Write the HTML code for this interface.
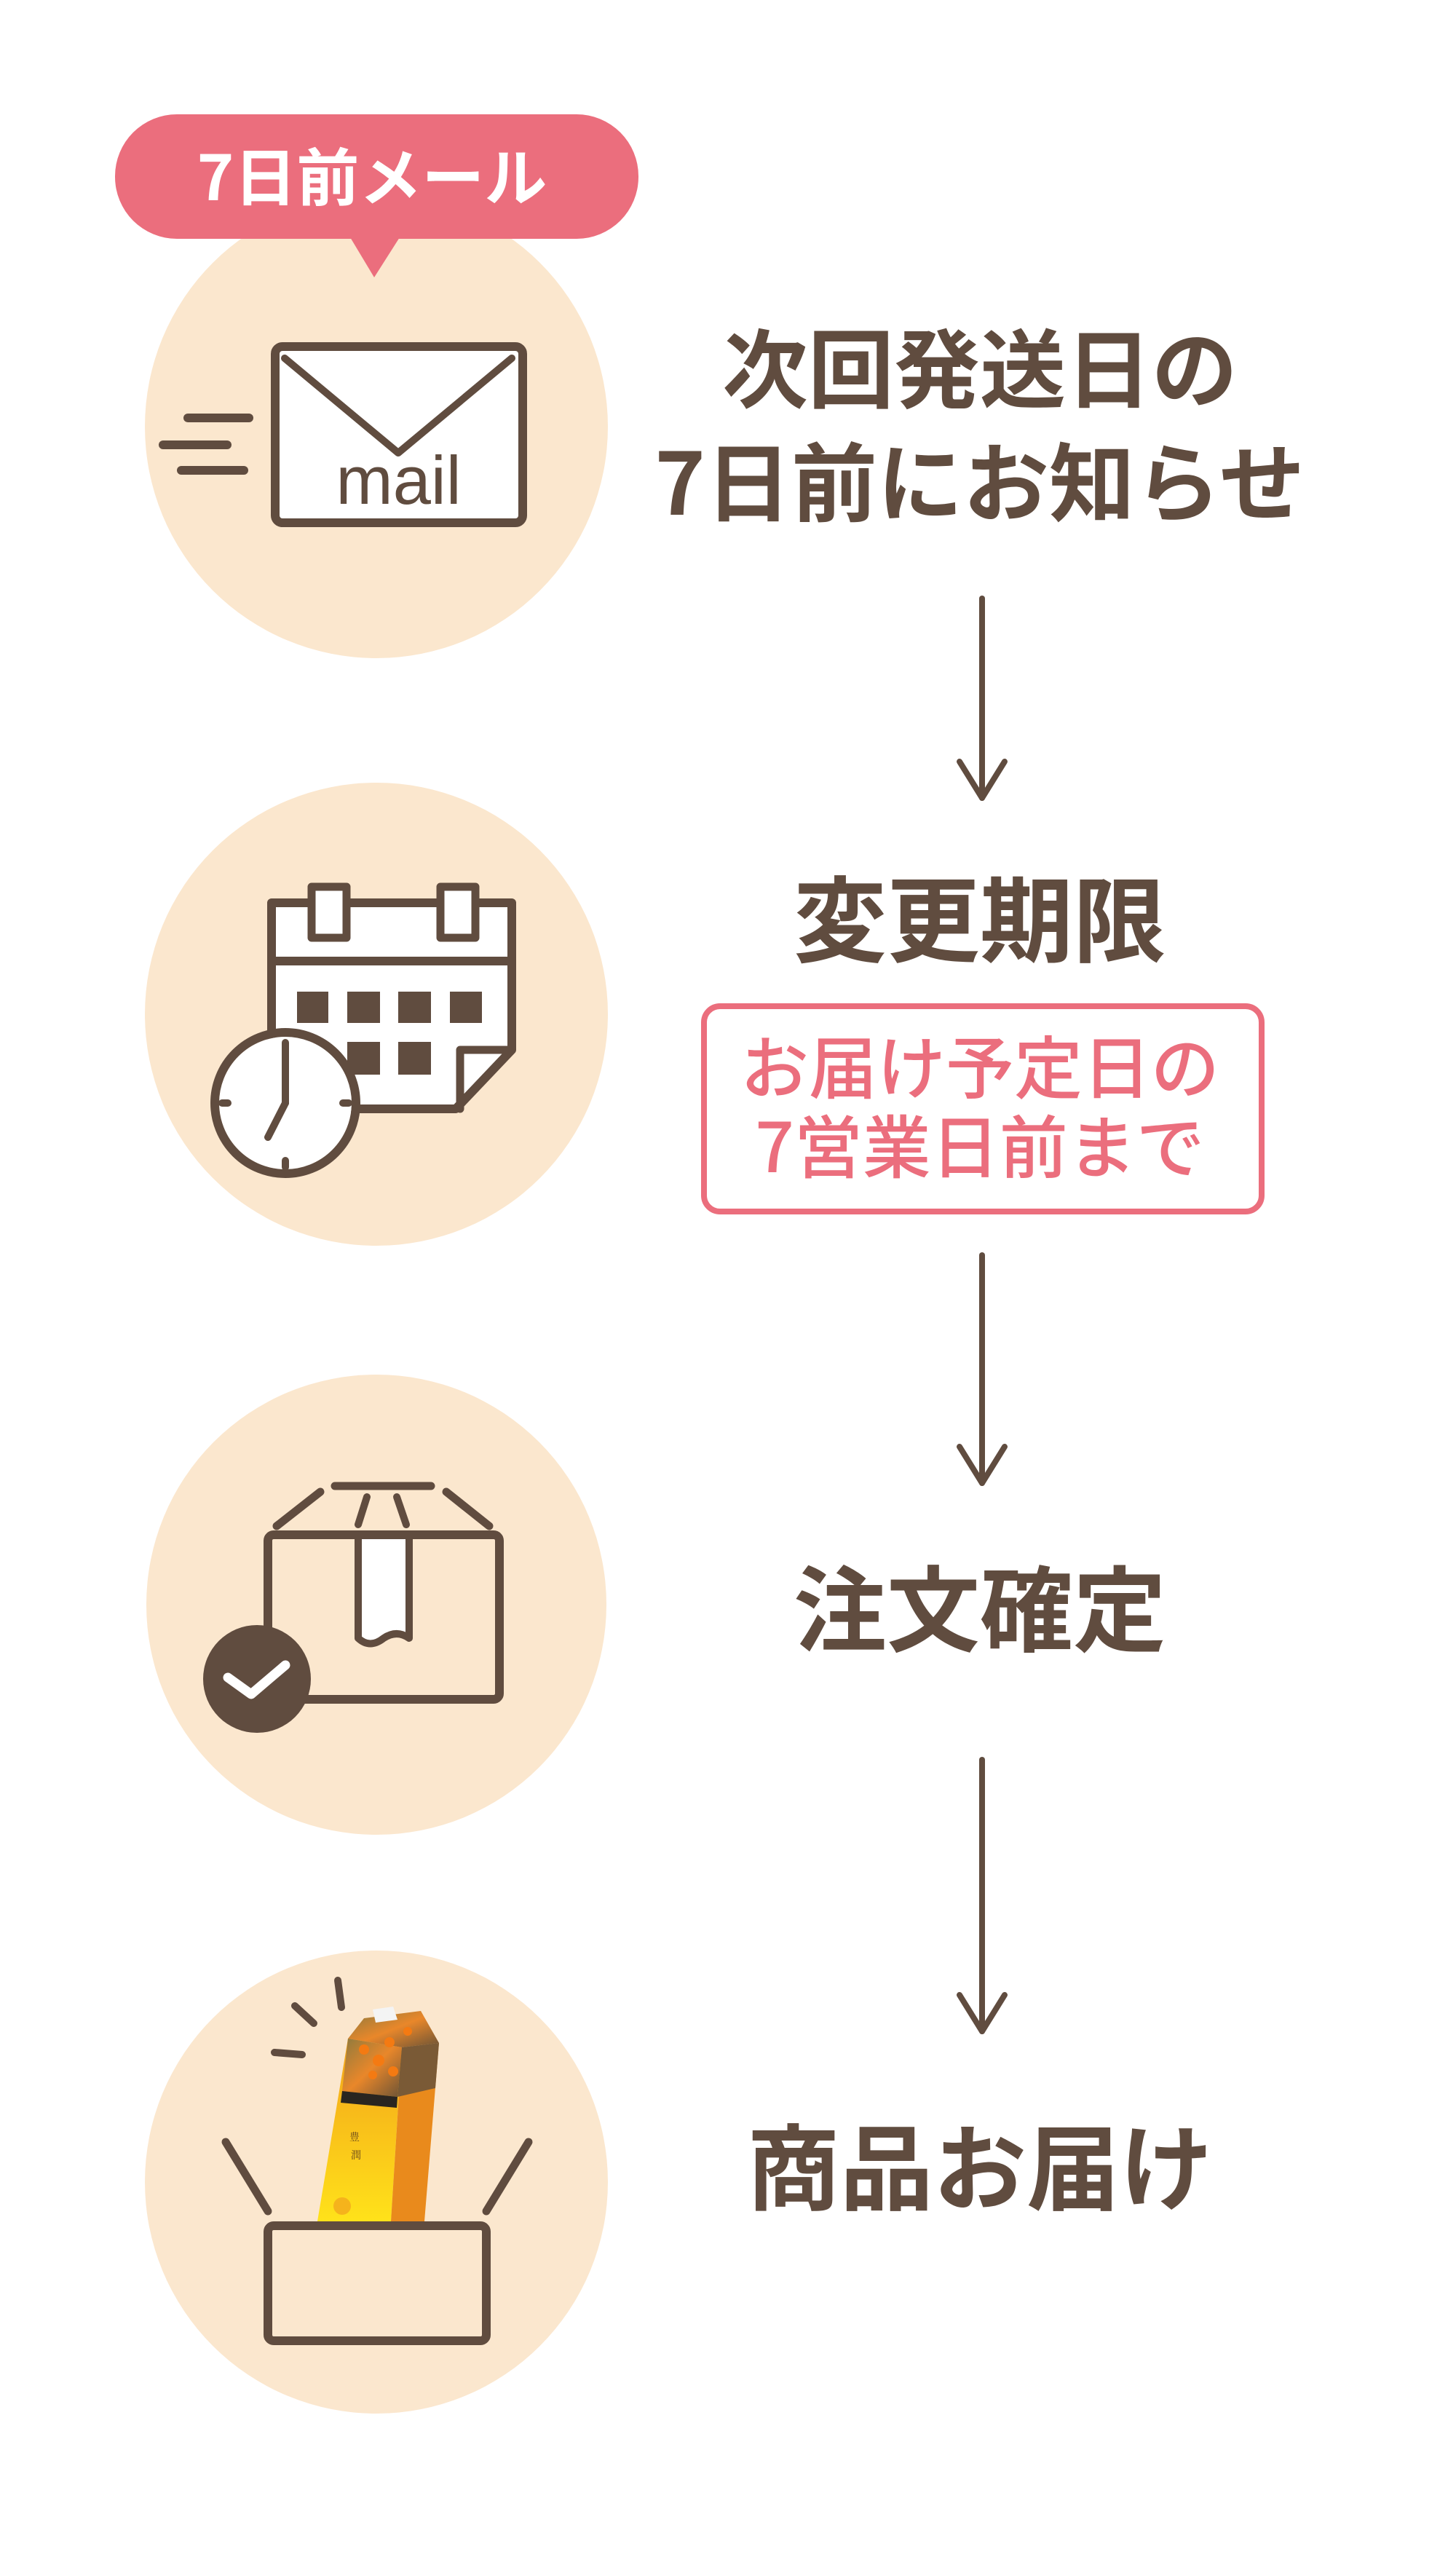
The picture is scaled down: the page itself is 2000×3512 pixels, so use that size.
<!DOCTYPE html>
<html><head><meta charset="utf-8">
<style>
html,body{margin:0;padding:0;background:#fff;}
body{width:2000px;height:3512px;position:relative;overflow:hidden;font-family:"Liberation Sans","Noto Sans CJK JP",sans-serif;}
svg{position:absolute;left:0;top:0;}
.t{position:absolute;left:846px;width:1000px;text-align:center;font-family:"Noto Sans CJK JP","Liberation Sans",sans-serif;font-weight:700;color:#604c3f;white-space:nowrap;}
</style></head><body>
<svg width="2000" height="3512" viewBox="0 0 2000 3512">
<defs>
<linearGradient id="yel" x1="0" y1="0" x2="0" y2="1">
<stop offset="0" stop-color="#f3a11a"/><stop offset="1" stop-color="#ffe21a"/></linearGradient>
<linearGradient id="pho" x1="0" y1="0" x2="1" y2="1">
<stop offset="0" stop-color="#8c7a3e"/><stop offset="0.5" stop-color="#e9872a"/><stop offset="1" stop-color="#6b5336"/></linearGradient>
</defs>
<g fill="#fbe7ce">
<circle cx="517" cy="586" r="318"/>
<circle cx="517" cy="1393" r="318"/>
<circle cx="517" cy="2204" r="316"/>
<circle cx="517" cy="2997" r="318"/>
</g>
<rect x="158" y="157" width="719" height="171" rx="85" fill="#eb6e7d"/>
<polygon points="481,326 549,326 514,381" fill="#eb6e7d"/>

<g stroke="#604c3f" stroke-linecap="round" stroke-linejoin="round" fill="none">
<rect x="378" y="476" width="340" height="242" rx="10" fill="#fff" stroke-width="12"/>
<polyline points="391,492 547,622 703,492" stroke-width="10"/>
<line x1="258" y1="574" x2="342" y2="574" stroke-width="12"/>
<line x1="224" y1="611" x2="312" y2="611" stroke-width="12"/>
<line x1="249" y1="646" x2="335" y2="646" stroke-width="12"/>
<g stroke-width="8">
<line x1="1349" y1="822" x2="1349" y2="1096"/><polyline points="1318,1046 1349,1096 1380,1046"/>
<line x1="1349" y1="1724" x2="1349" y2="2037"/><polyline points="1318,1987 1349,2037 1380,1987"/>
<line x1="1349" y1="2417" x2="1349" y2="2790"/><polyline points="1318,2740 1349,2790 1380,2740"/>
</g>
<path d="M373,1240 H703 V1442 L626,1523 H373 Z" fill="#fff" stroke-width="12"/>
<line x1="373" y1="1320" x2="703" y2="1320" stroke-width="12"/>
<path d="M703,1442 H632 V1523" stroke-width="11"/>
<rect x="428" y="1218" width="48" height="70" fill="#fff" stroke-width="11"/>
<rect x="605" y="1218" width="48" height="70" fill="#fff" stroke-width="11"/>
<rect x="368" y="2108" width="318" height="226" rx="8" stroke-width="12"/>
<line x1="460" y1="2041" x2="592" y2="2041" stroke-width="11"/>
<line x1="380" y1="2096" x2="440" y2="2049" stroke-width="11"/>
<line x1="613" y1="2049" x2="672" y2="2096" stroke-width="11"/>
<line x1="504" y1="2056" x2="492" y2="2094" stroke-width="10"/>
<line x1="545" y1="2056" x2="558" y2="2094" stroke-width="10"/>
<path d="M492,2114 V2250 Q508,2265 527,2250 Q545,2238 562,2250 V2114" fill="#fff" stroke-width="10"/>
<rect x="368" y="3057" width="300" height="158" rx="8" stroke-width="12"/>
<line x1="310" y1="2942" x2="368" y2="3037" stroke-width="11"/>
<line x1="726" y1="2942" x2="668" y2="3037" stroke-width="11"/>
<line x1="377" y1="2819" x2="415" y2="2822" stroke-width="10"/>
<line x1="405" y1="2755" x2="431" y2="2779" stroke-width="10"/>
<line x1="464" y1="2720" x2="469" y2="2757" stroke-width="10"/>
</g>
<circle cx="353" cy="2306" r="74" fill="#604c3f"/>
<polyline points="313,2304 345,2327 392,2287" fill="none" stroke="#fff" stroke-width="13" stroke-linecap="round" stroke-linejoin="round"/>
<g fill="#604c3f">
<rect x="408" y="1362" width="43" height="43"/><rect x="477" y="1362" width="45" height="43"/><rect x="547" y="1362" width="45" height="43"/><rect x="618" y="1362" width="44" height="43"/>
<rect x="477" y="1431" width="45" height="45"/><rect x="547" y="1431" width="45" height="45"/>
</g>
<circle cx="392" cy="1515" r="91" fill="#fff"/>
<g stroke="#604c3f" stroke-linecap="round" fill="none">
<circle cx="392" cy="1515" r="97" stroke-width="12"/>
<polyline points="392,1432 392,1515 368,1562" stroke-width="10"/>
<g stroke-width="10"><line x1="392" y1="1594" x2="392" y2="1603"/><line x1="305" y1="1515" x2="313" y2="1515"/><line x1="471" y1="1515" x2="479" y2="1515"/></g>
</g>
<polygon points="478,2800 552,2812 537,3051 436,3051" fill="url(#yel)"/>
<polygon points="552,2812 603,2806 583,3051 537,3051" fill="#e98a1c"/>
<polygon points="478,2800 500,2772 578,2762 603,2806 552,2812" fill="url(#pho)"/>
<polygon points="478,2800 552,2812 546,2880 470,2872" fill="url(#pho)"/>
<polygon points="552,2812 603,2806 598,2868 546,2880" fill="#7a5a36"/>
<polygon points="470,2872 546,2880 545,2895 468,2888" fill="#2a2520"/>
<g fill="#f47a12"><circle cx="500" cy="2815" r="7"/><circle cx="520" cy="2830" r="8"/><circle cx="535" cy="2805" r="7"/><circle cx="512" cy="2850" r="6"/><circle cx="540" cy="2845" r="7"/><circle cx="560" cy="2790" r="6"/></g>
<polygon points="512,2760 540,2756 546,2774 516,2778" fill="#f4f4f4"/>
<circle cx="470" cy="3030" r="12" fill="#f5b31c"/>
<text x="480" y="2940" font-family="Noto Serif CJK SC,serif" font-size="14" fill="#6b4a1c">豊</text>
<text x="482" y="2965" font-family="Noto Serif CJK SC,serif" font-size="14" fill="#6b4a1c">潤</text>
</svg>

<div class="t" style="left:11px;width:1000px;top:195px;font-size:86px;line-height:86px;color:#fff;">7日前メール</div>
<div class="t" style="top:422px;font-size:118px;line-height:156px;">次回発送日の<br>7日前にお知らせ</div>
<div class="t" style="top:1192px;font-size:128px;line-height:128px;">変更期限</div>
<div style="position:absolute;left:963px;top:1378px;width:758px;height:274px;border:8px solid #eb6e7d;border-radius:26px;"></div>
<div class="t" style="top:1407px;font-size:94px;line-height:109px;color:#eb6e7d;font-weight:500;">お届け予定日の<br>7営業日前まで</div>
<div class="t" style="top:2139px;font-size:128px;line-height:128px;">注文確定</div>
<div class="t" style="top:2906px;font-size:128px;line-height:128px;">商品お届け</div>
<div style="position:absolute;left:455px;top:613px;width:185px;text-align:center;font-family:'Liberation Sans',sans-serif;font-size:94px;line-height:94px;color:#604c3f;">mail</div>
</body></html>
